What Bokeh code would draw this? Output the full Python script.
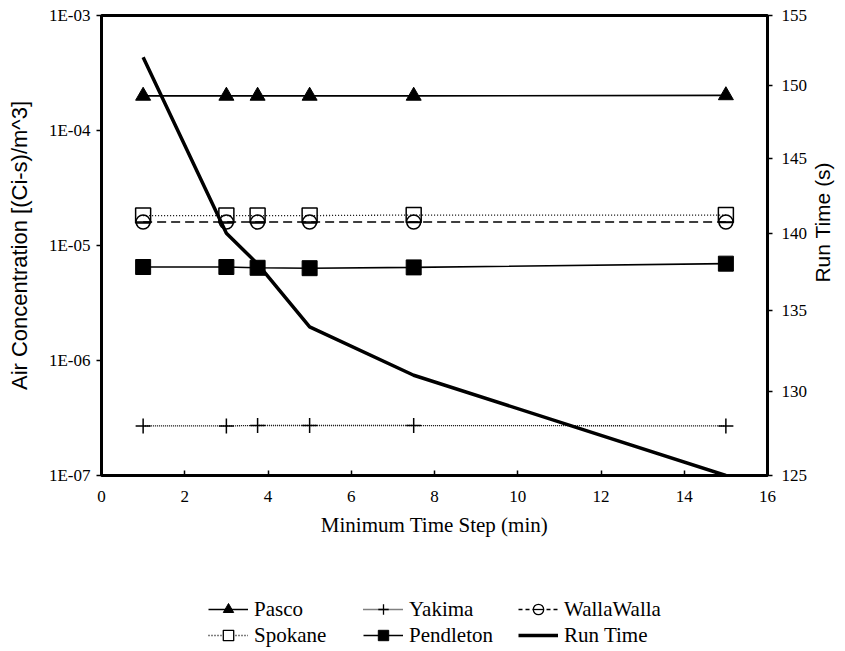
import math
from bokeh.plotting import figure
from bokeh.layouts import column, row
from bokeh.models import (LinearAxis, Range1d, FixedTicker, CustomJSTickFormatter,
                          Legend, LegendItem)
from bokeh.core.properties import value
from bokeh.embed import file_html
from bokeh.resources import INLINE

# ---- data ----
time_step = [1, 3, 3.75, 5, 7.5, 15]
pasco = [2.0e-4, 2.0e-4, 2.0e-4, 2.0e-4, 2.0e-4, 2.02e-4]
spokane = [1.82e-5, 1.82e-5, 1.82e-5, 1.82e-5, 1.84e-5, 1.84e-5]
yakima = [2.7e-7, 2.7e-7, 2.72e-7, 2.72e-7, 2.72e-7, 2.7e-7]
wallawalla = [1.6e-5, 1.6e-5, 1.6e-5, 1.6e-5, 1.6e-5, 1.6e-5]
pendleton = [6.5e-6, 6.5e-6, 6.4e-6, 6.35e-6, 6.45e-6, 6.95e-6]
run_time = [152, 140, 138, 134, 131, 125]

x_ticks = [0, 2, 4, 6, 8, 10, 12, 14, 16]
conc_ticks = [1e-7, 1e-6, 1e-5, 1e-4, 1e-3]
rt_ticks = [125, 130, 135, 140, 145, 150, 155]
series_names = ["Pasco", "Yakima", "WallaWalla", "Spokane", "Pendleton", "Run Time"]

SERIF = "Liberation Serif"
SANS = "Liberation Sans"
INK = "black"

MAIN_H = 545

p = figure(frame_width=666, frame_height=460,
           min_border_left=101, min_border_top=15, min_border_right=36,
           min_border_bottom=MAIN_H - 475,
           output_backend="svg", toolbar_location=None,
           y_axis_type="log",
           x_range=Range1d(0, 16), y_range=Range1d(1e-7, 1e-3))
p.extra_y_ranges = {"rt": Range1d(125, 155)}

p.grid.visible = False
p.outline_line_color = INK
p.outline_line_width = 3
p.background_fill_color = "white"
p.border_fill_color = "white"

# x axis
xa = p.xaxis[0]
xa.ticker = FixedTicker(ticks=x_ticks)
xa.axis_line_color = None
xa.major_tick_in = 5
xa.major_tick_out = 0
xa.minor_tick_line_color = None
xa.major_tick_line_width = 1.5
xa.major_tick_line_color = INK
xa.major_label_standoff = 15
xa.major_label_text_font = SERIF
xa.major_label_text_font_size = "17px"
xa.major_label_text_color = INK
xa.axis_label = "Minimum Time Step (min)"
xa.axis_label_text_font = SERIF
xa.axis_label_text_font_size = "21px"
xa.axis_label_text_font_style = "normal"
xa.axis_label_text_color = INK
xa.axis_label_standoff = 8

# left axis
ya = p.yaxis[0]
ya.ticker = FixedTicker(ticks=conc_ticks)
ya.formatter = CustomJSTickFormatter(code="""
const e = Math.round(Math.log10(tick));
const a = Math.abs(e);
return "1E" + (e < 0 ? "-" : "+") + (a < 10 ? "0" + a : "" + a);
""")
ya.axis_line_color = None
ya.major_tick_in = 0
ya.major_tick_out = 5
ya.major_tick_line_width = 1.5
ya.major_tick_line_color = INK
ya.minor_tick_line_color = None
ya.major_label_standoff = 6
ya.major_label_text_font = SERIF
ya.major_label_text_font_size = "17px"
ya.major_label_text_color = INK
ya.axis_label = "Air Concentration [(Ci-s)/m^3]"
ya.axis_label_text_font = SANS
ya.axis_label_text_font_size = "22px"
ya.axis_label_text_font_style = "normal"
ya.axis_label_text_color = INK
ya.axis_label_standoff = 14

# right axis (its title is drawn in the side strip so that it reads bottom-to-top)
ra = LinearAxis(y_range_name="rt", ticker=FixedTicker(ticks=rt_ticks))
ra.axis_line_color = None
ra.major_tick_in = 0
ra.major_tick_out = 5
ra.major_tick_line_width = 1.5
ra.major_tick_line_color = INK
ra.minor_tick_line_color = None
ra.major_label_standoff = 9
ra.major_label_text_font = SERIF
ra.major_label_text_font_size = "17px"
ra.major_label_text_color = INK
p.add_layout(ra, "right")

# series
l_pa = p.line(time_step, pasco, line_color=INK, line_width=1.6)
m_pa = p.scatter(time_step, pasco, marker="triangle", size=15, fill_color=INK, line_color=INK)

l_sp = p.line(time_step, spokane, line_color=INK, line_width=1.3, line_dash="1 2")
m_sp = p.scatter(time_step, spokane, marker="square", size=15, fill_alpha=0, line_color=INK, line_width=1.5)

l_ya = p.line(time_step, yakima, line_color=INK, line_width=1.3, line_dash="1 1")
m_ya = p.scatter(time_step, yakima, marker="cross", size=15, line_color=INK, line_width=1.5)

l_ww = p.line(time_step, wallawalla, line_color=INK, line_width=1.6, line_dash="9 5")
m_ww = p.scatter(time_step, wallawalla, marker="circle", size=14, fill_alpha=0, line_color=INK, line_width=1.5)
m_ww2 = p.scatter(time_step, wallawalla, marker="dash", size=13, line_color=INK, line_width=1.5)

l_pe = p.line(time_step, pendleton, line_color=INK, line_width=1.6)
m_pe = p.scatter(time_step, pendleton, marker="square", size=15, fill_color=INK, line_color=INK)

l_rt = p.line(time_step, run_time, y_range_name="rt", line_color=INK, line_width=3.5)

# ---- right-hand axis title strip ----
pr = figure(width=32, height=MAIN_H, min_border=0, output_backend="svg",
            toolbar_location=None, x_axis_location=None, y_axis_location=None,
            x_range=Range1d(0, 32), y_range=Range1d(0, MAIN_H))
pr.grid.visible = False
pr.outline_line_color = None
pr.text(x=[12], y=[MAIN_H - 245], text=["Run Time (s)"], angle=math.pi / 2,
        text_align="center", text_baseline="middle", text_color=INK,
        text_font=value(SANS), text_font_size="21px")

# ---- legend strip (same series, drawn outside this strip's ranges) ----
LEG_H = 103
pl = figure(width=837, height=LEG_H, min_border=0, output_backend="svg",
            toolbar_location=None, x_axis_location=None, y_axis_location=None,
            x_range=Range1d(-2, -1), y_range=Range1d(-2, -1))
pl.grid.visible = False
pl.outline_line_color = None

g_pa = [pl.line(time_step, run_time, line_color=INK, line_width=1.6),
        pl.scatter(time_step, run_time, marker="triangle", fill_color=INK, line_color=INK)]
g_ya = [pl.line(time_step, run_time, line_color=INK, line_width=1.3, line_dash="1 1"),
        pl.scatter(time_step, run_time, marker="cross", line_color=INK, line_width=1.3)]
g_ww = [pl.line(time_step, run_time, line_color=INK, line_width=1.6, line_dash="4 3"),
        pl.scatter(time_step, run_time, marker="circle", fill_color="white", line_color=INK, line_width=1.3),
        pl.scatter(time_step, run_time, marker="dash", line_color=INK, line_width=1.3)]
g_sp = [pl.line(time_step, run_time, line_color=INK, line_width=1.3, line_dash="1 2"),
        pl.scatter(time_step, run_time, marker="square", fill_color="white", line_color=INK, line_width=1.3)]
g_pe = [pl.line(time_step, run_time, line_color=INK, line_width=1.6),
        pl.scatter(time_step, run_time, marker="square", fill_color=INK, line_color=INK)]
g_rt = [pl.line(time_step, run_time, line_color=INK, line_width=3.5)]

legend = Legend(items=[LegendItem(label=n, renderers=r, index=0) for n, r in
                       zip(series_names, [g_pa, g_ya, g_ww, g_sp, g_pe, g_rt])],
                orientation="horizontal", ncols=3, location=(208, 0))
legend.label_text_font = SERIF
legend.label_text_font_size = "21px"
legend.label_text_color = INK
legend.glyph_width = 40
legend.glyph_height = 26
legend.label_height = 26
legend.label_standoff = 6
legend.label_width = 109
legend.spacing = 0
legend.padding = 2
legend.margin = 0
legend.border_line_color = None
legend.background_fill_alpha = 0
pl.add_layout(legend, "center")

layout = column(row(p, pr), pl)
open("out.html", "w").write(file_html(layout, INLINE))
